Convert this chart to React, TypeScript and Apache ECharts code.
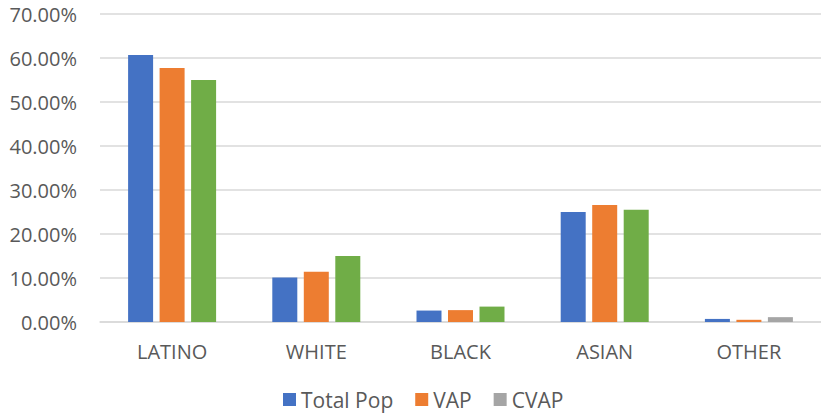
import React, { useEffect, useRef } from "react";
import * as echarts from "echarts";

const categories = ["LATINO", "WHITE", "BLACK", "ASIAN", "OTHER"];
const totalPop = [60.7, 10.1, 2.6, 25.0, 0.7];
const vap = [57.7, 11.4, 2.7, 26.6, 0.5];
const cvap = [55.0, 15.0, 3.5, 25.5, 1.1];
const cvapItemColors = ["#70AD47", "#70AD47", "#70AD47", "#70AD47", "#A5A5A5"];
const seriesNames = ["Total Pop", "VAP", "CVAP"];
const seriesColors = ["#4472C4", "#ED7D31", "#A5A5A5"];

const FONT = "Open Sans";
const TEXT = "#595959";

export default function App() {
  const ref = useRef<HTMLDivElement>(null);
  useEffect(() => {
    if (!ref.current) return;
    const chart = echarts.init(ref.current, undefined, { renderer: "svg" });
    chart.setOption({
      animation: false,
      backgroundColor: "#ffffff",
      grid: { left: 100, right: 0, top: 14, bottom: 96, containLabel: false },
      legend: {
        bottom: 3,
        left: 278,
        icon: "rect",
        itemWidth: 13,
        itemHeight: 13,
        itemGap: 22,
        textStyle: { fontFamily: FONT, fontSize: 21, color: TEXT },
        data: seriesNames,
      },
      xAxis: {
        type: "category",
        data: categories,
        axisLine: { lineStyle: { color: "#D9D9D9", width: 1.5 } },
        axisTick: { show: false },
        axisLabel: { fontFamily: FONT, fontSize: 20, color: TEXT, margin: 19 },
      },
      yAxis: {
        type: "value",
        min: 0,
        max: 70,
        interval: 10,
        axisLine: { show: false },
        axisTick: { show: false },
        splitLine: { lineStyle: { color: "#D9D9D9", width: 1.5 } },
        axisLabel: {
          fontFamily: FONT,
          fontSize: 20,
          color: TEXT,
          margin: 23,
          formatter: (v: number) => v.toFixed(2) + "%",
        },
      },
      series: [
        {
          name: seriesNames[0],
          type: "bar",
          data: totalPop,
          barWidth: 25,
          barGap: "26%",
          itemStyle: { color: seriesColors[0] },
        },
        {
          name: seriesNames[1],
          type: "bar",
          data: vap,
          barWidth: 25,
          barGap: "26%",
          itemStyle: { color: seriesColors[1] },
        },
        {
          name: seriesNames[2],
          type: "bar",
          data: cvap.map((v, i) => ({ value: v, itemStyle: { color: cvapItemColors[i] } })),
          barWidth: 25,
          barGap: "26%",
          itemStyle: { color: seriesColors[2] },
        },
      ],
    });
    return () => chart.dispose();
  }, []);
  return (
    <div
      ref={ref}
      style={{ position: "absolute", left: 0, top: 0, width: 821, height: 418 }}
    />
  );
}
